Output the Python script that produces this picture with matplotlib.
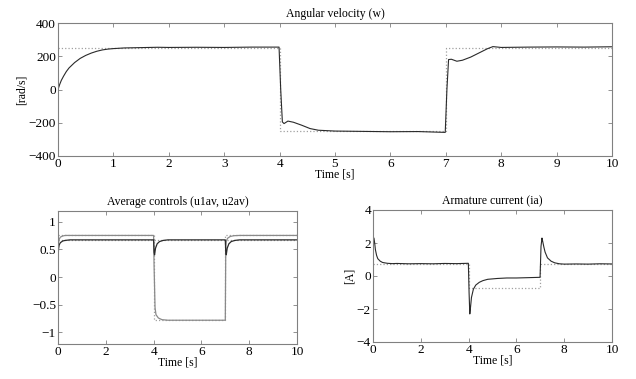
import matplotlib
matplotlib.use("Agg")
import matplotlib.pyplot as plt

plt.rcParams['font.family'] = ['Liberation Serif', 'DejaVu Serif']
plt.rcParams['font.size'] = 8

# ---------- Angular velocity ----------
w_t = [0, 0.03, 0.06, 0.1, 0.15, 0.2, 0.3, 0.4, 0.5, 0.6, 0.7, 0.8, 0.9, 1.0, 1.2, 1.5,
       1.8, 2.0, 2.5, 3.0, 3.5, 3.99, 4.02, 4.05, 4.08, 4.15, 4.25, 4.4, 4.55, 4.7, 5.0,
       5.5, 6.0, 6.5, 6.99, 7.02, 7.05, 7.1, 7.2, 7.3, 7.45, 7.6, 7.75, 7.85, 8.0, 8.5,
       9.0, 9.5, 10.0]
w_val = [0, 30, 55, 80, 108, 130, 162, 187, 205, 219, 230, 238, 243, 246, 250, 252,
         254, 253, 254, 253, 255, 255, 0, -195, -205, -190, -197, -215, -235, -245, -250,
         -252, -254, -253, -258, 0, 180, 182, 170, 176, 195, 220, 245, 258, 253, 255,
         256, 255, 257]
w_ref_t = [0, 4, 4, 7, 7, 10]
w_ref = [250, 250, -250, -250, 250, 250]

# ---------- Average controls ----------
u1_t = [0, 0.02, 0.05, 0.1, 0.2, 0.3, 0.5, 4.0, 4.02, 4.06, 4.1, 4.2, 4.35, 4.6, 5.0,
        7.0, 7.02, 7.05, 7.1, 7.2, 7.35, 7.6, 10.0]
u1_val = [0.5, 0.62, 0.68, 0.72, 0.74, 0.75, 0.75, 0.75, 0.2, -0.55, -0.68, -0.74,
          -0.77, -0.78, -0.78, -0.78, 0.55, 0.66, 0.7, 0.73, 0.745, 0.75, 0.75]
u2_t = [0, 0.02, 0.05, 0.1, 0.2, 0.3, 0.5, 4.0, 4.02, 4.04, 4.08, 4.15, 4.25, 4.4, 4.6,
        7.0, 7.02, 7.04, 7.08, 7.15, 7.25, 7.4, 7.6, 10.0]
u2_val = [0.25, 0.5, 0.58, 0.62, 0.65, 0.66, 0.67, 0.67, 0.45, 0.4, 0.52, 0.6, 0.64,
          0.66, 0.67, 0.67, 0.45, 0.4, 0.52, 0.6, 0.64, 0.66, 0.67, 0.67]
u1_ref_t = [0, 4, 4, 7, 7, 10]
u1_ref = [0.75, 0.75, -0.78, -0.78, 0.75, 0.75]
u2_ref_t = [0, 10]
u2_ref = [0.67, 0.67]

# ---------- Armature current ----------
ia_t = [0, 0.02, 0.04, 0.07, 0.1, 0.15, 0.2, 0.3, 0.4, 0.6, 0.8, 1.0, 1.5, 2.0, 2.5,
        3.0, 3.5, 3.99, 4.02, 4.05, 4.08, 4.12, 4.2, 4.3, 4.45, 4.6, 4.8, 5.2, 5.6, 6.0,
        6.5, 6.99, 7.03, 7.07, 7.1, 7.15, 7.2, 7.3, 7.45, 7.6, 7.8, 8.0, 8.5, 9.0,
        9.5, 10.0]
ia_val = [0.8, 2.0, 2.3, 2.0, 1.6, 1.25, 1.05, 0.9, 0.82, 0.77, 0.75, 0.76, 0.74, 0.75,
          0.74, 0.76, 0.75, 0.77, -1.0, -2.3, -1.9, -1.3, -0.8, -0.55, -0.38, -0.28,
          -0.2, -0.15, -0.12, -0.12, -0.1, -0.08, 1.8, 2.3, 2.1, 1.75, 1.45, 1.1, 0.9,
          0.8, 0.74, 0.72, 0.73, 0.72, 0.74, 0.73]
ia_ref_t = [0, 4, 4, 7, 7, 10]
ia_ref = [0.7, 0.7, -0.7, -0.7, 0.7, 0.7]

FRAME = '#808080'
LINE = '#2a2a2a'
REF = '#a0a0a0'
TICKSIZE = 9.5


def style(ax):
    for s in ax.spines.values():
        s.set_color(FRAME)
        s.set_linewidth(0.8)
    ax.tick_params(direction='in', top=True, right=True, colors=FRAME,
                   labelcolor='black', length=3, width=0.6, labelsize=TICKSIZE, pad=1.5)


fig = plt.figure(figsize=(6.36, 3.79), dpi=100)

ax1 = fig.add_axes([58 / 636, 1 - 156 / 379, (612 - 58) / 636, (156 - 23) / 379])
ax1.plot(w_ref_t, w_ref, linestyle=':', color=REF, lw=0.9)
ax1.plot(w_t, w_val, color=LINE, lw=0.8)
ax1.set_xlim(0, 10)
ax1.set_ylim(-400, 400)
ax1.set_xticks(range(0, 11))
ax1.set_yticks([-400, -200, 0, 200, 400])
ax1.set_title('Angular velocity (w)', fontsize=8.5, pad=4)
ax1.set_xlabel('Time [s]', fontsize=8.5, labelpad=-1)
ax1.set_ylabel('[rad/s]', fontsize=8.5, labelpad=1)
style(ax1)

ax2 = fig.add_axes([58 / 636, 1 - 343.5 / 379, (297 - 58) / 636, (343.5 - 210.5) / 379])
ax2.plot(u1_ref_t, u1_ref, linestyle=':', color=REF, lw=0.9)
ax2.plot(u2_ref_t, u2_ref, linestyle=':', color=REF, lw=0.9)
ax2.plot(u1_t, u1_val, color='#8a8a8a', lw=0.9)
ax2.plot(u2_t, u2_val, color=LINE, lw=0.9)
ax2.set_xlim(0, 10)
ax2.set_ylim(-1.2, 1.2)
ax2.set_xticks(range(0, 11, 2))
ax2.set_yticks([-1, -0.5, 0, 0.5, 1])
ax2.set_yticklabels(['\u22121', '\u22120.5', '0', '0.5', '1'])
ax2.set_title('Average controls (u1av, u2av)', fontsize=8.5, pad=4)
ax2.set_xlabel('Time [s]', fontsize=8.5, labelpad=-1)
style(ax2)

ax3 = fig.add_axes([373 / 636, 1 - 342 / 379, (612 - 373) / 636, (342 - 210) / 379])
ax3.plot(ia_ref_t, ia_ref, linestyle=':', color=REF, lw=0.9)
ax3.plot(ia_t, ia_val, color=LINE, lw=0.8)
ax3.set_xlim(0, 10)
ax3.set_ylim(-4, 4)
ax3.set_xticks(range(0, 11, 2))
ax3.set_yticks([-4, -2, 0, 2, 4])
ax3.set_title('Armature current (ia)', fontsize=8.5, pad=4)
ax3.set_xlabel('Time [s]', fontsize=8.5, labelpad=-1)
ax3.set_ylabel('[A]', fontsize=8.5, labelpad=1)
style(ax3)

fig.savefig('out.png', dpi=100)
